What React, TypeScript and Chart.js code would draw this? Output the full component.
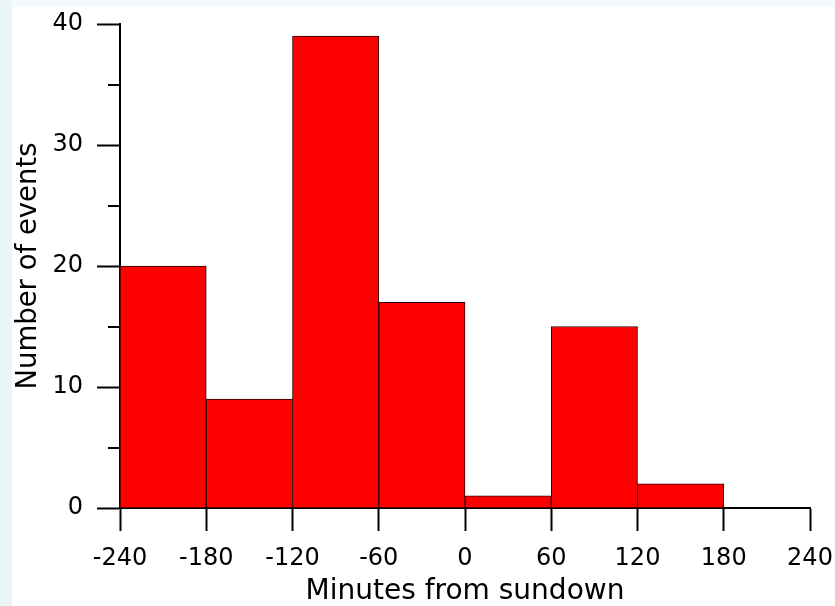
import React, { useEffect, useRef } from "react";
import { Chart, registerables } from "chart.js";

Chart.register(...registerables);

const binCenters = [-210, -150, -90, -30, 30, 90, 150];
const counts = [20, 9, 39, 17, 1, 15, 2];
const xTitle = "Minutes from sundown";
const yTitle = "Number of events";

const FONT = "'DejaVu Sans', Verdana, sans-serif";

const minorTicks = {
  id: "minorTicks",
  afterDraw(chart: any) {
    const y = chart.scales.y;
    const ctx = chart.ctx;
    const left = chart.chartArea.left;
    ctx.save();
    ctx.strokeStyle = "#000";
    ctx.lineWidth = 2;
    y.ticks.forEach((t: any) => {
      if (t.value % 10 !== 0) {
        const py = Math.round(y.getPixelForValue(t.value));
        ctx.beginPath();
        ctx.moveTo(left - 12, py);
        ctx.lineTo(left, py);
        ctx.stroke();
      }
    });
    ctx.restore();
  },
};

const background = {
  id: "bg",
  beforeDraw(chart: any) {
    const ctx = chart.ctx;
    ctx.save();
    ctx.fillStyle = "#ffffff";
    ctx.fillRect(0, 0, chart.width, chart.height);
    ctx.fillStyle = "#f4fafc";
    ctx.fillRect(0, 0, chart.width, 7);
    ctx.fillStyle = "#eaf5f8";
    ctx.fillRect(0, 0, 12, chart.height);
    ctx.restore();
  },
};

export default function App() {
  const ref = useRef<HTMLCanvasElement>(null);
  useEffect(() => {
    if (!ref.current) return;
    const chart = new Chart(ref.current, {
      type: "bar",
      data: {
        datasets: [
          {
            data: binCenters.map((x, i) => ({ x, y: counts[i] })),
            backgroundColor: "#ff0000",
            borderColor: "#2a0000",
            borderWidth: 1,
            barPercentage: 1,
            categoryPercentage: 1,
          },
        ],
      },
      options: {
        animation: false,
        responsive: false,
        layout: { padding: { top: 24, right: 25, left: 0, bottom: 0 } },
        plugins: { legend: { display: false }, tooltip: { enabled: false } },
        scales: {
          x: {
            type: "linear",
            min: -240,
            max: 240,
            offset: false,
            afterFit(s: any) {
              s.height = 98;
              s.paddingLeft = 0;
              s.paddingRight = 0;
            },
            ticks: {
              stepSize: 60,
              color: "#000",
              font: { family: FONT, size: 24 },
              padding: 13,
              maxRotation: 0,
              autoSkip: false,
            },
            grid: {
              offset: false,
              drawOnChartArea: false,
              drawTicks: true,
              tickLength: 23,
              tickColor: "#000",
              tickWidth: 2,
            },
            border: { display: true, color: "#000", width: 2 },
            title: {
              display: true,
              text: xTitle,
              color: "#000",
              font: { family: FONT, size: 28, lineHeight: 1 },
              padding: { top: -6, bottom: 0 },
            },
          },
          y: {
            type: "linear",
            min: 0,
            max: 40,
            afterFit(s: any) {
              s.width = 120;
              s.paddingTop = 0;
              s.paddingBottom = 0;
            },
            ticks: {
              stepSize: 5,
              color: "#000",
              font: { family: FONT, size: 24 },
              padding: 14,
              callback: (v: any) => (Number(v) % 10 === 0 ? String(v) : ""),
            },
            grid: {
              drawOnChartArea: false,
              drawTicks: true,
              tickLength: 23,
              tickWidth: 2,
              tickColor: (c: any) =>
                c.tick && c.tick.value % 10 === 0 ? "#000" : "rgba(0,0,0,0)",
            },
            border: { display: true, color: "#000", width: 2 },
            title: {
              display: true,
              text: yTitle,
              color: "#000",
              font: { family: FONT, size: 27.5, lineHeight: 1.2 },
              padding: { top: 12, bottom: 0 },
            },
          },
        },
      },
      plugins: [background, minorTicks],
    });
    return () => chart.destroy();
  }, []);
  return (
    <div style={{ position: "absolute", left: 0, top: 0, width: 835, height: 606 }}>
      <canvas ref={ref} width={835} height={606} style={{ width: "835px", height: "606px" }} />
    </div>
  );
}
